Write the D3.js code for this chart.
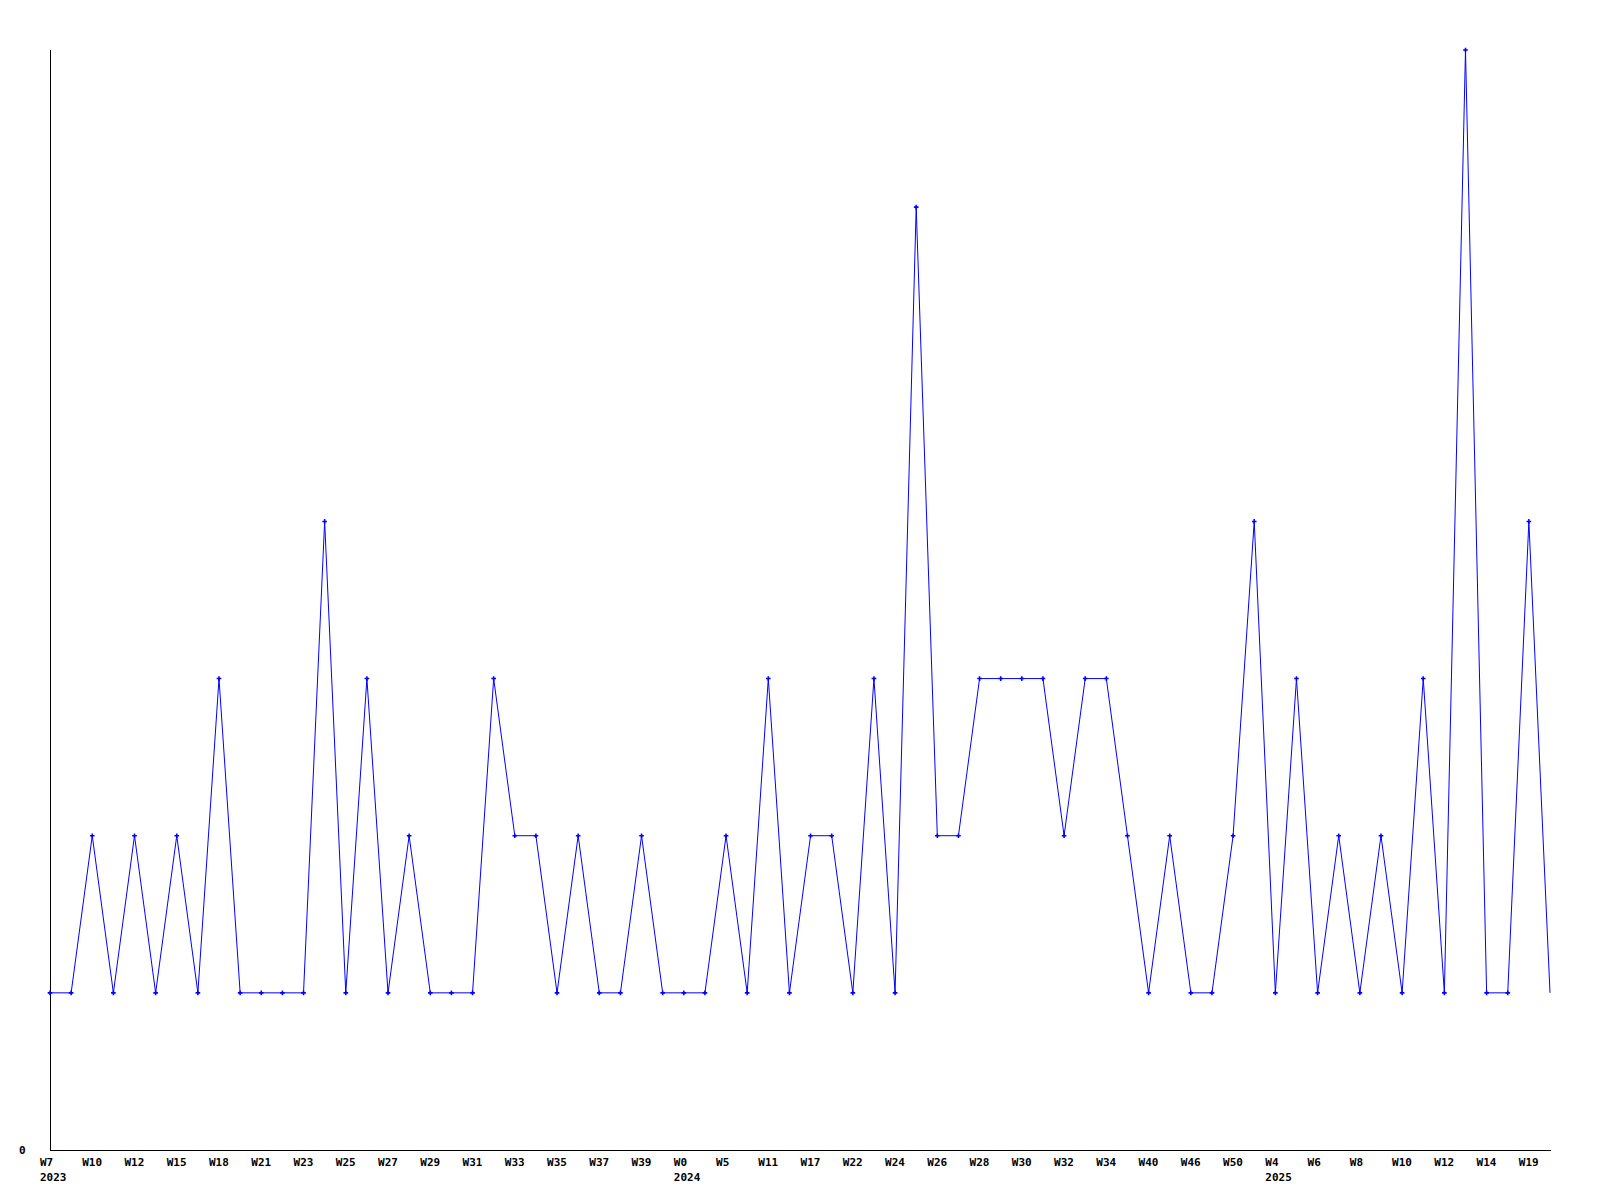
<!DOCTYPE html>
<html><head><meta charset="utf-8">
<script src="https://cdn.jsdelivr.net/npm/d3@7"></script>
<style>body{margin:0;background:#fff}svg{display:block}</style>
</head><body>
<script>
// week categories (every second one is labelled on the axis)
const weeks = ["W7","W8","W10","W11","W12","W14","W15","W16","W18","W20","W21","W22","W23","W24","W25","W26","W27","W28",
"W29","W30","W31","W32","W33","W34","W35","W36","W37","W38","W39","W40","W0","W3","W5","W8","W11","W14","W17","W20","W22","W23",
"W24","W25","W26","W27","W28","W29","W30","W31","W32","W33","W34","W36","W40","W43","W46","W48","W50","W52","W4","W5","W6","W7",
"W8","W9","W10","W11","W12","W13","W14","W16","W19","W20"];
const years = {0:"2023",30:"2024",58:"2025"};
const values = [1,1,2,1,2,1,2,1,3,1,1,1,1,4,1,3,1,2,1,1,1,3,2,2,1,2,1,1,2,1,1,1,2,1,3,1,2,2,1,3,1,6,2,2,3,3,3,3,2,3,3,2,1,2,1,1,2,4,1,3,1,2,1,2,1,3,1,7,1,1,4,1];
const yTicks = [0];

const W = 1600, H = 1200;
const svg = d3.select("body").append("svg").attr("width", W).attr("height", H);
const x = d3.scalePoint().domain(d3.range(values.length)).range([50, 1550]);
const y = d3.scaleLinear().domain([0, 7]).range([1150, 50]);
const font = "'DejaVu Sans Mono', monospace";

// axes lines
svg.append("line").attr("x1",50.5).attr("x2",50.5).attr("y1",50).attr("y2",1150.5).attr("stroke","#000");
svg.append("line").attr("x1",50).attr("x2",1551).attr("y1",1150.5).attr("y2",1150.5).attr("stroke","#000");

// y tick labels
svg.selectAll("text.yl").data(yTicks).join("text").attr("class","yl")
  .attr("x", 19).attr("y", d => y(d) + 4)
  .attr("font-family", font).attr("font-weight","bold").attr("font-size", 11).text(d => d);

// x tick labels
const xt = d3.range(0, values.length, 2);
svg.selectAll("text.xl").data(xt).join("text").attr("class","xl")
  .attr("x", d => x(d) - 10).attr("y", 1166)
  .attr("font-family", font).attr("font-weight","bold").attr("font-size", 11).text(d => weeks[d]);
svg.selectAll("text.yr").data(Object.keys(years).map(Number)).join("text").attr("class","yr")
  .attr("x", d => x(d) - 10).attr("y", 1181)
  .attr("font-family", font).attr("font-weight","bold").attr("font-size", 11).text(d => years[d]);

// line
const line = d3.line().x((d,i) => x(i)).y(d => y(d));
svg.append("path").datum(values).attr("d", line).attr("fill","none").attr("stroke","#0000ff").attr("stroke-width",1);

// markers (the last point carries no marker in the reference)
svg.selectAll("path.m").data(values.slice(0, -1)).join("path").attr("class","m")
  .attr("d", d3.symbol(d3.symbolCross, 12))
  .attr("transform", (d,i) => `translate(${x(i)},${y(d)})`)
  .attr("fill","#0000ff");
</script>
</body></html>
